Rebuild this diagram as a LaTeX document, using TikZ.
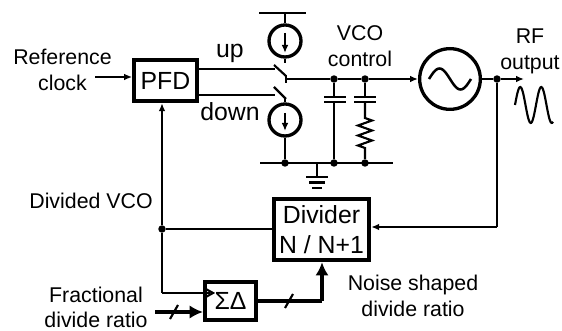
\documentclass[tikz,border=0pt]{standalone}
\usepackage{fontspec}
\setmainfont{Liberation Sans}
\usetikzlibrary{calc,arrows.meta}
\tikzset{
  blockbox/.style={draw, line width=3pt, inner sep=0pt, align=center, font=\fontsize{18.6}{22.5}\selectfont},
  roundcell/.style={draw, circle, inner sep=0pt, minimum size=#1, line width=2.5pt},
  junction/.style={circle, fill=black, inner sep=0pt, minimum size=5.6pt},
  plate/.style={line width=2pt},
  wire/.style={line width=1.6pt},
  pumpwire/.style={line width=2pt},
  busline/.style={line width=3pt},
  thintip/.style={-{Latex[length=6pt,width=5pt]}},
  bustip/.style={-{Latex[length=10pt,width=10pt]}},
  textlabel/.style={inner sep=0pt, align=center, font=\fontsize{16}{19.5}\selectfont},
  fraclabel/.style={inner sep=0pt, align=center, font=\fontsize{16}{18.5}\selectfont},
  biglabel/.style={inner sep=0pt, align=center, font=\fontsize{18.6}{22.5}\selectfont}
}
\begin{document}
\begin{tikzpicture}[x=0.75pt, y=-0.75pt]
\useasboundingbox (0,0) rectangle (562,331);

% blocks
\node [blockbox, minimum width=47pt, minimum height=31pt] (pfd) at (165.5,80.5) {PFD};
\node [blockbox, minimum width=71.5pt, minimum height=46pt] (divider) at (321.5,229.5) {Divider\\N / N+1};
\node [blockbox, minimum width=38.25pt, minimum height=28.5pt] (sd) at (230.5,301) {ΣΔ};
\node [roundcell=45.5pt] (vco) at (450,79) {};
\node [roundcell=24pt] (srcup) at (285,41) {};
\node [roundcell=24pt] (srcdn) at (285,120) {};

% points
\coordinate (vddl) at (259,13); \coordinate (vddr) at (306,13);
\coordinate (vdd) at (285,13);
\coordinate (gndl) at (260,163); \coordinate (gndr) at (393,163);
\coordinate (gndt) at (317,163); \coordinate (gndb) at (317,177);
\coordinate (swup) at (275,69); \coordinate (swdn) at (275,95);
\coordinate (bladeupa) at (274,65); \coordinate (bladeupb) at (286,76);
\coordinate (bladedna) at (274,87); \coordinate (bladednb) at (286,99);
\coordinate (stubup) at (285,63);
\coordinate (stubdn) at (285,99);
\coordinate (polea) at (286,75); \coordinate (poleb) at (286,83);
\coordinate (ctrl) at (286,79);
\coordinate (outtip) at (524,79);
\coordinate (fbcorner) at (497,227);
\coordinate (clkin) at (95,77);
\coordinate (fracin) at (155,312);
\coordinate (sdcorner) at (322,301);
\coordinate (clkcorner) at (162,293);
\coordinate (clkend) at (210,293);
\node [junction] (n1) at (334,79) {};
\node [junction] (n2) at (365,79) {};
\node [junction] (n3) at (285,163) {};
\node [junction] (n4) at (334,163) {};
\node [junction] (n5) at (365,163) {};
\node [junction] (nout) at (497,79) {};
\node [junction] (nfb) at (162,229) {};

% supply and switches
\begin{scope}[wire]
  \draw (vddl) -- (vddr); \draw (gndl) -- (gndr);
  \draw (vdd) -- (srcup.north); \draw (srcup.south) -- (stubup);
  \draw (srcdn.south) -- (n3);
  \draw (srcdn.north) -- (stubdn);
  \draw (bladeupa) -- (bladeupb); \draw (bladedna) -- (bladednb);
  \draw [pumpwire] (pfd.east |- swup) -- (swup);
  \draw [pumpwire] (pfd.east |- swdn) -- (swdn);
  \draw (polea) -- (poleb);
  \draw (ctrl) -- (n1) -- (n2);
  \draw [thintip] (n2) -- (vco.west);
  \draw (vco.east) -- (nout);
  \draw [thintip] (nout) -- (outtip);
  \draw (nout) -- (fbcorner);
  \draw [thintip] (fbcorner) -- (divider.east |- fbcorner);
  \draw (divider.west |- nfb) -- (nfb);
  \draw [thintip] (clkcorner) -- (nfb) -- (pfd.south -| nfb);
  \draw (clkcorner) -- (clkend);
  \draw [thintip] (clkin) -- (pfd.west |- clkin);
\end{scope}

% current source arrows
\begin{scope}[wire, thintip]
  \draw ($(srcup)+(0,-8)$) -- ($(srcup)+(0,12)$);
  \draw ($(srcdn)+(0,-7)$) -- ($(srcdn)+(0,11)$);
\end{scope}

% loop filter
\begin{scope}[wire]
  \draw (n1) -- ++(0,18); \draw (n4) -- ++(0,-61);
  \draw (n2) -- ++(0,18);
  \draw (365,102) -- (365,118) -- ++(7,2.5) -- ++(-14,5) -- ++(14,5)
  -- ++(-14,5) -- ++(14,5) -- ++(-14,5) -- (365,148) -- (n5);
  \draw [plate] (324,97) -- (346,97); \draw [plate] (324,102) -- (346,102);
  \draw [plate] (354,97) -- (376,97); \draw [plate] (354,102) -- (376,102);
  \draw (gndt) -- (gndb);
  \draw [plate] (306,177) -- (328,177); \draw [plate] (309,182.5) -- (325,182.5);
  \draw [plate] (312,188) -- (322,188);
\end{scope}

% sine waves
\draw [line width=1.9pt, domain=429:471, samples=40, smooth]
  plot (\x, {79-10.5*sin((\x-429)/42*360)});
\draw [line width=1.6pt, domain=515:553, samples=50, smooth]
  plot (\x, {105-18*sin((\x-515)/21*360)});

% clock mark and bus
\draw [wire] (204,288) -- (213,293) -- (204,298);
\draw [busline, bustip] (fracin) -- (sd.west |- fracin);
\draw [busline] (sd.east |- sdcorner) -- (sdcorner);
\draw [busline, bustip] (sdcorner) -- (divider.south -| sdcorner);
\draw [wire] (170,319) -- (178,305);
\draw [wire] (285,308) -- (293,294);

% labels
\node [textlabel] (lref) at (62.5,70) {Reference\\clock};
\node [biglabel] (lup) at (230,53) {up};
\node [biglabel] (ldown) at (230,112) {down};
\node [textlabel] (lvco) at (360,46) {VCO\\control};
\node [textlabel] (lrf) at (530,51) {RF\\output};
\node [textlabel] (ldiv) at (91,201) {Divided VCO};
\node [fraclabel] (lfrac) at (96,307.5) {Fractional\\divide ratio};
\node [textlabel] (lnoise) at (413,296) {Noise shaped\\divide ratio};
\end{tikzpicture}
\end{document}
